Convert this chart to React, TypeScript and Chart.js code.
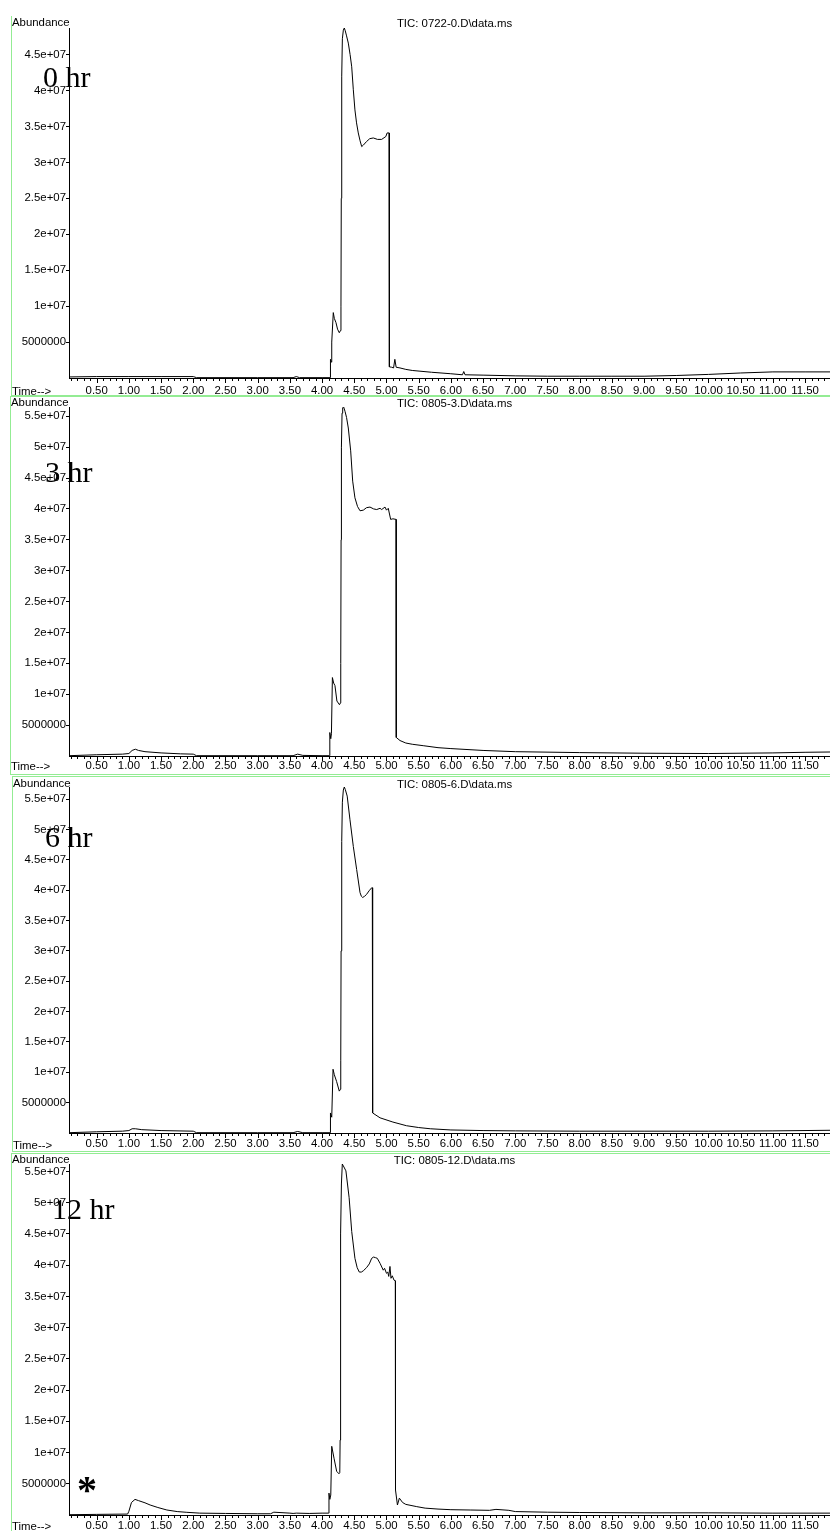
import React, { useEffect, useRef } from 'react';
import { Chart, registerables } from 'chart.js';

Chart.register(...registerables);

// ---------- DATA (abundance values in millions of counts) ----------
const ABUNDANCE_UNIT = 1e6;

const TIME_0HR = [0.07, 0.5, 1.0, 1.5, 2.0, 2.05, 3.0, 3.55, 3.6, 3.65, 4.0, 4.125, 4.13, 4.145, 4.15, 4.174, 4.19, 4.216, 4.24, 4.267, 4.285, 4.293, 4.298, 4.305, 4.315, 4.33, 4.345, 4.36, 4.38, 4.407, 4.435, 4.46, 4.485, 4.51, 4.535, 4.562, 4.59, 4.615, 4.64, 4.69, 4.74, 4.795, 4.86, 4.925, 4.99, 5.01, 5.04, 5.045, 5.08, 5.11, 5.13, 5.15, 5.21, 5.3, 5.4, 5.52, 5.7, 5.99, 6.18, 6.2, 6.22, 6.5, 7.0, 7.5, 8.0, 8.5, 9.0, 9.5, 10.0, 10.5, 11.0, 11.5, 11.9];
const ABUND_0HR = [0.15, 0.2, 0.2, 0.2, 0.2, 0.05, 0.05, 0.05, 0.2, 0.05, 0.05, 0.05, 2.6, 2.2, 5.0, 9.1, 8.3, 7.7, 6.8, 6.3, 6.6, 10, 25, 42, 47.2, 48.4, 48.7, 48.3, 47.6, 46.6, 45.0, 43.3, 40.1, 37.3, 35.5, 34.1, 33.0, 32.2, 32.4, 32.9, 33.3, 33.4, 33.2, 33.2, 33.6, 34.1, 34.1, 1.55, 1.5, 1.4, 2.6, 1.5, 1.4, 1.2, 1.05, 0.95, 0.8, 0.6, 0.45, 0.9, 0.45, 0.4, 0.3, 0.25, 0.25, 0.25, 0.25, 0.35, 0.5, 0.7, 0.85, 0.85, 0.85];

const TIME_3HR = [0.07, 0.5, 0.9, 1.0, 1.05, 1.1, 1.15, 1.25, 1.5, 1.8, 2.0, 2.05, 3.0, 3.55, 3.62, 3.7, 4.0, 4.115, 4.12, 4.135, 4.145, 4.16, 4.18, 4.2, 4.23, 4.27, 4.285, 4.29, 4.295, 4.3, 4.31, 4.32, 4.335, 4.356, 4.38, 4.407, 4.444, 4.475, 4.51, 4.55, 4.589, 4.64, 4.69, 4.744, 4.8, 4.848, 4.9, 4.925, 4.977, 5.0, 5.028, 5.04, 5.065, 5.1, 5.148, 5.152, 5.21, 5.3, 5.4, 5.57, 5.8, 6.0, 6.5, 7.0, 8.0, 9.0, 10.0, 11.0, 11.5, 11.9];
const ABUND_3HR = [0.05, 0.2, 0.3, 0.4, 0.9, 1.1, 0.9, 0.7, 0.5, 0.35, 0.3, 0.05, 0.05, 0.05, 0.3, 0.1, 0.05, 0.05, 3.8, 2.8, 3.6, 12.7, 11.8, 11.4, 8.9, 8.3, 8.6, 15, 35, 50, 55.5, 56.4, 56.5, 55.8, 54.8, 53.1, 49.4, 44.5, 41.8, 40.4, 39.7, 39.8, 40.2, 40.3, 40.0, 39.9, 40.1, 39.9, 40.3, 39.8, 40.1, 39.5, 38.3, 38.4, 38.3, 3.0, 2.5, 2.1, 1.9, 1.67, 1.35, 1.2, 0.9, 0.7, 0.55, 0.45, 0.4, 0.5, 0.6, 0.65];

const TIME_6HR = [0.07, 0.5, 0.9, 1.0, 1.05, 1.1, 1.2, 1.5, 2.0, 2.05, 3.0, 3.55, 3.62, 3.7, 4.0, 4.125, 4.13, 4.15, 4.17, 4.19, 4.225, 4.267, 4.285, 4.29, 4.295, 4.305, 4.315, 4.33, 4.345, 4.36, 4.39, 4.433, 4.485, 4.537, 4.589, 4.61, 4.63, 4.66, 4.69, 4.73, 4.77, 4.78, 4.785, 4.9, 5.1, 5.31, 5.5, 5.68, 6.0, 6.5, 7.0, 8.0, 9.0, 10.0, 11.0, 11.9];
const ABUND_6HR = [0.05, 0.2, 0.3, 0.4, 0.7, 0.7, 0.55, 0.4, 0.3, 0.05, 0.05, 0.05, 0.25, 0.05, 0.05, 0.05, 3.3, 2.6, 10.5, 9.6, 8.5, 6.9, 7.2, 12, 30, 48, 54.5, 56.5, 57.0, 56.6, 55.5, 51.6, 47.2, 43.4, 39.6, 39.0, 38.8, 39.0, 39.3, 39.9, 40.4, 40.4, 3.3, 2.5, 1.8, 1.2, 0.9, 0.7, 0.5, 0.4, 0.35, 0.3, 0.3, 0.3, 0.35, 0.45];

const TIME_12HR = [0.07, 0.5, 0.98, 1.0, 1.04, 1.095, 1.15, 1.25, 1.33, 1.45, 1.59, 1.75, 1.9, 2.1, 2.5, 3.0, 3.2, 3.25, 3.5, 3.55, 3.6, 3.8, 4.0, 4.1, 4.107, 4.12, 4.135, 4.15, 4.185, 4.226, 4.262, 4.275, 4.28, 4.285, 4.29, 4.3, 4.314, 4.33, 4.37, 4.42, 4.46, 4.51, 4.545, 4.578, 4.61, 4.64, 4.69, 4.733, 4.77, 4.8, 4.83, 4.857, 4.9, 4.95, 4.97, 5.0, 5.02, 5.035, 5.054, 5.07, 5.09, 5.117, 5.137, 5.14, 5.17, 5.2, 5.25, 5.3, 5.47, 5.6, 5.8, 6.0, 6.3, 6.6, 6.7, 6.9, 7.0, 7.5, 8.0, 9.0, 10.0, 11.0, 11.9];
const ABUND_12HR = [0.05, 0.1, 0.15, 0.6, 2.0, 2.5, 2.3, 1.95, 1.6, 1.2, 0.8, 0.55, 0.43, 0.3, 0.25, 0.2, 0.2, 0.45, 0.3, 0.25, 0.3, 0.25, 0.3, 0.3, 3.5, 2.5, 3.2, 11.0, 9.1, 7.0, 6.6, 6.8, 12, 28, 45, 53, 56.2, 55.9, 55.1, 50.8, 45.4, 41.1, 39.6, 38.9, 38.9, 39.1, 39.6, 40.2, 41.1, 41.3, 41.2, 41.1, 40.3, 39.2, 39.5, 38.7, 38.9, 38.2, 39.8, 37.9, 38.3, 37.6, 37.5, 4.0, 1.6, 2.7, 2.0, 1.7, 1.34, 1.1, 0.95, 0.85, 0.8, 0.75, 0.9, 0.75, 0.55, 0.45, 0.4, 0.35, 0.35, 0.3, 0.3];

const PANEL_LABELS = ['0 hr', '3 hr', '6 hr', '12 hr'];
const PANEL_TITLES = ['TIC: 0722-0.D\\data.ms', 'TIC: 0805-3.D\\data.ms', 'TIC: 0805-6.D\\data.ms', 'TIC: 0805-12.D\\data.ms'];
const Y_MAX = [48.7, 56.5, 57.0, 56.2]; // millions, top of each y axis
const Y_TICK_VALUES = [5, 10, 15, 20, 25, 30, 35, 40, 45, 50, 55]; // millions

const X_MIN = 0.07;
const X_MAX = 11.887;
const X_TICK_VALUES = [0.5, 1.0, 1.5, 2.0, 2.5, 3.0, 3.5, 4.0, 4.5, 5.0, 5.5, 6.0, 6.5, 7.0, 7.5, 8.0, 8.5, 9.0, 9.5, 10.0, 10.5, 11.0, 11.5];
const X_MINOR_STEP = 0.1;
const X_AXIS_LABEL = 'Time-->';
const Y_AXIS_LABEL = 'Abundance';
const MARKER_TEXT = '*';

// ---------- LAYOUT ----------
const W = 830;
const FONT = '"Liberation Sans", Arial, sans-serif';
const FS = 11.4;
const GREEN = '#93ec93';

type Layout = { top: number; height: number; areaTop: number; areaBottom: number; labelPad: number;
  hrTop: number; hrLeft: number; abTop: number; abLeft: number; titleTop: number; timeTop: number };

const LAYOUTS: Layout[] = [
  { top: 0, height: 396, areaTop: 28, areaBottom: 378, labelPad: 6, hrTop: 62, hrLeft: 43, abTop: 14.8, abLeft: 12, titleTop: 15.8, timeTop: 383.8 },
  { top: 396, height: 380, areaTop: 407, areaBottom: 756, labelPad: 3, hrTop: 457, hrLeft: 45, abTop: 394.5, abLeft: 11, titleTop: 396, timeTop: 759.1 },
  { top: 776, height: 377, areaTop: 787, areaBottom: 1133, labelPad: 4, hrTop: 822, hrLeft: 45, abTop: 775.5, abLeft: 13, titleTop: 777, timeTop: 1138 },
  { top: 1153, height: 378, areaTop: 1164, areaBottom: 1515, labelPad: 4, hrTop: 1194, hrLeft: 52, abTop: 1151.5, abLeft: 12, titleTop: 1153, timeTop: 1518.8 },
];

const SERIES_TIMES = [TIME_0HR, TIME_3HR, TIME_6HR, TIME_12HR];
const SERIES_VALUES = [ABUND_0HR, ABUND_3HR, ABUND_6HR, ABUND_12HR];

function fmtY(v: number): string {
  const n = Math.round(v);
  if (n <= 0) return '';
  if (n < 1e7) return String(n);
  const exp = Math.floor(Math.log10(n) + 1e-9);
  const mant = n / Math.pow(10, exp);
  return `${+mant.toFixed(2)}e+${String(exp).padStart(2, '0')}`;
}

const minorTickPlugin = {
  id: 'minorTicks',
  afterDraw(chart: any) {
    const xs = chart.scales.x;
    const ctx = chart.ctx;
    const y0 = Math.round(xs.top);
    ctx.save();
    ctx.strokeStyle = '#000';
    ctx.lineWidth = 1;
    const n = Math.floor(X_MAX / X_MINOR_STEP);
    for (let i = 1; i <= n; i++) {
      const t = i * X_MINOR_STEP;
      if (t < X_MIN) continue;
      const px = Math.round(xs.getPixelForValue(t)) + 0.5;
      const major = i % 5 === 0;
      ctx.beginPath();
      ctx.moveTo(px, y0);
      ctx.lineTo(px, y0 + (major ? 5 : 3));
      ctx.stroke();
    }
    ctx.restore();
  },
};

function Panel({ idx }: { idx: number }) {
  const ref = useRef<HTMLCanvasElement | null>(null);
  const L = LAYOUTS[idx];
  useEffect(() => {
    if (!ref.current) return;
    const times = SERIES_TIMES[idx];
    const vals = SERIES_VALUES[idx];
    const xAxisHeight = L.top + L.height - L.areaBottom;
    const yMax = Y_MAX[idx];
    const chart = new Chart(ref.current, {
      type: 'line',
      data: {
        datasets: [
          {
            data: times.map((t, i) => ({ x: t, y: vals[i] * ABUNDANCE_UNIT })),
            borderColor: '#000',
            borderWidth: 1,
            pointRadius: 0,
            tension: 0,
            fill: false,
          },
        ],
      },
      options: {
        animation: false,
        responsive: false,
        devicePixelRatio: 1,
        layout: { padding: { top: L.areaTop - L.top, left: 0, right: 0, bottom: 0 } },
        plugins: { legend: { display: false }, tooltip: { enabled: false }, title: { display: false } },
        scales: {
          x: {
            type: 'linear',
            min: X_MIN,
            max: X_MAX,
            afterBuildTicks: (axis: any) => {
              axis.ticks = X_TICK_VALUES.map((v) => ({ value: v }));
            },
            afterFit: (s: any) => {
              s.height = xAxisHeight;
            },
            grid: { display: false, drawTicks: true, tickLength: 0 },
            border: { display: true, color: '#000', width: 1 },
            ticks: {
              autoSkip: false,
              maxRotation: 0,
              minRotation: 0,
              padding: L.labelPad,
              color: '#000',
              font: { family: FONT, size: FS },
              callback: (v: any) => Number(v).toFixed(2),
            },
          },
          y: {
            type: 'linear',
            min: 0,
            max: yMax * ABUNDANCE_UNIT,
            afterBuildTicks: (axis: any) => {
              axis.ticks = Y_TICK_VALUES.filter((v) => v <= yMax).map((v) => ({ value: v * ABUNDANCE_UNIT }));
            },
            afterFit: (s: any) => {
              s.width = 69;
            },
            grid: { display: true, drawOnChartArea: false, drawTicks: true, tickLength: 3, color: '#000' },
            border: { display: true, color: '#000', width: 1 },
            ticks: {
              padding: 0,
              color: '#000',
              font: { family: FONT, size: FS },
              callback: (v: any) => fmtY(Number(v)),
            },
          },
        },
      },
      plugins: [minorTickPlugin],
    } as any);
    return () => chart.destroy();
  }, [idx]);
  return (
    <canvas
      ref={ref}
      width={W}
      height={L.height}
      style={{ position: 'absolute', left: 0, top: L.top, width: W, height: L.height }}
    />
  );
}

const small: React.CSSProperties = {
  position: 'absolute',
  fontFamily: FONT,
  fontSize: FS,
  lineHeight: '14px',
  color: '#000',
  whiteSpace: 'nowrap',
};

const hrStyle: React.CSSProperties = {
  position: 'absolute',
  fontFamily: '"Liberation Serif", "Times New Roman", serif',
  fontSize: 30,
  lineHeight: '30px',
  color: '#000',
  whiteSpace: 'nowrap',
};

function line(x: number, y: number, w: number, h: number, key: string) {
  return <div key={key} style={{ position: 'absolute', left: x, top: y, width: w, height: h, background: GREEN }} />;
}

export default function App() {
  const frames = [
    line(11, 16, 1, 379, 'v1'),
    line(11, 395, W - 11, 1, 'h1'),
    line(10, 396, 1, 378, 'v2'),
    line(10, 396, W - 10, 1, 'h2t'),
    line(10, 774, W - 10, 1, 'h2b'),
    line(12, 776, 1, 375, 'v3'),
    line(12, 776, W - 12, 1, 'h3t'),
    line(12, 1151, W - 12, 1, 'h3b'),
    line(11, 1153, 1, 378, 'v4'),
    line(11, 1153, W - 11, 1, 'h4t'),
  ];
  return (
    <div style={{ position: 'absolute', left: 0, top: 0, width: W, height: 1531, overflow: 'hidden', background: '#fff' }}>
      {frames}
      {LAYOUTS.map((_, i) => (
        <Panel key={i} idx={i} />
      ))}
      {LAYOUTS.map((L, i) => (
        <React.Fragment key={'t' + i}>
          <div style={{ ...small, left: L.abLeft, top: L.abTop }}>{Y_AXIS_LABEL}</div>
          <div style={{ ...small, left: 454.5, top: L.titleTop, transform: 'translateX(-50%)' }}>{PANEL_TITLES[i]}</div>
          <div style={{ ...small, left: L.abLeft, top: L.timeTop }}>{X_AXIS_LABEL}</div>
          <div style={{ ...hrStyle, left: L.hrLeft, top: L.hrTop }}>{PANEL_LABELS[i]}</div>
        </React.Fragment>
      ))}
      <div
        style={{
          position: 'absolute',
          left: 77,
          top: 1470,
          fontFamily: '"Liberation Serif", "Times New Roman", serif',
          fontWeight: 'bold',
          fontSize: 40,
          lineHeight: '40px',
          color: '#000',
        }}
      >
        {MARKER_TEXT}
      </div>
    </div>
  );
}
